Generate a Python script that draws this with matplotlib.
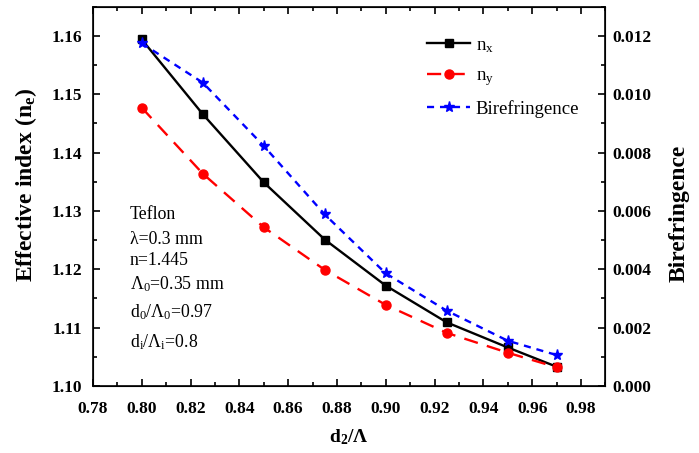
import matplotlib
matplotlib.use("Agg")
import matplotlib.pyplot as plt
from matplotlib.ticker import MultipleLocator

plt.rcParams['font.family'] = ['Liberation Serif', 'DejaVu Serif']
plt.rcParams['mathtext.fontset'] = 'custom'
plt.rcParams['mathtext.rm'] = 'Liberation Serif'
plt.rcParams['mathtext.it'] = 'Liberation Serif:italic'
plt.rcParams['mathtext.bf'] = 'Liberation Serif:bold'

# data
d2_ratio = [0.80, 0.825, 0.85, 0.875, 0.90, 0.925, 0.95, 0.97]
n_x = [1.1594, 1.1466, 1.1349, 1.1251, 1.1172, 1.1109, 1.1066, 1.1033]
n_y = [1.1477, 1.1364, 1.1272, 1.1199, 1.1139, 1.1091, 1.1057, 1.1032]
biref = [0.01175, 0.0104, 0.00823, 0.00588, 0.00386, 0.00258, 0.00155, 0.00106]

params = ["Teflon", "λ=0.3 mm", "n=1.445", r"Λ$_0$=0.35 mm",
          r"d$_0$/Λ$_0$=0.97", r"d$_\mathrm{i}$/Λ$_\mathrm{i}$=0.8"]

fig = plt.figure(figsize=(6.99, 4.53), dpi=100)
ax = fig.add_axes([0.133, 0.148, 0.733, 0.837])
ax2 = ax.twinx()

l1, = ax.plot(d2_ratio, n_x, color='black', lw=1.7, marker='s', ms=6, label=r'n$_\mathrm{x}$')
l2, = ax.plot(d2_ratio, n_y, color='red', lw=1.7, ls=(0, (6, 4)), marker='o', ms=6.5, label=r'n$_\mathrm{y}$')
l3, = ax2.plot(d2_ratio, biref, color='blue', lw=1.7, ls=(0, (3, 2.5)), marker='*', ms=8, label='Birefringence')

ax.set_xlim(0.78, 0.99)
ax.set_ylim(1.10, 1.165)
ax2.set_ylim(0, 0.013)

ax.xaxis.set_major_locator(MultipleLocator(0.02))
ax.xaxis.set_minor_locator(MultipleLocator(0.01))
ax.yaxis.set_major_locator(MultipleLocator(0.01))
ax.yaxis.set_minor_locator(MultipleLocator(0.005))
ax2.yaxis.set_major_locator(MultipleLocator(0.002))
ax2.yaxis.set_minor_locator(MultipleLocator(0.001))
ax.xaxis.set_major_formatter(plt.FormatStrFormatter('%.2f'))
ax.yaxis.set_major_formatter(plt.FormatStrFormatter('%.2f'))
ax2.yaxis.set_major_formatter(plt.FormatStrFormatter('%.3f'))

ax.tick_params(axis='x', which='both', direction='in', top=True)
ax.tick_params(axis='y', which='both', direction='in', right=False)
ax.tick_params(which='major', length=5, width=1.2, labelsize=12.5)
ax.tick_params(which='minor', length=3, width=1.2)
ax.tick_params(axis='x', which='major', pad=11)
ax.tick_params(axis='y', which='major', pad=8)
ax2.tick_params(which='both', direction='in')
ax2.tick_params(which='major', length=5, width=1.2, labelsize=12.5, pad=5)
ax2.tick_params(which='minor', length=3, width=1.2)
for lab in ax.get_xticklabels() + ax.get_yticklabels() + ax2.get_yticklabels():
    lab.set_fontweight('bold')
for sp in ax2.spines.values():
    sp.set_linewidth(1.2)

ax.set_xlabel(r'd$_\mathbf{2}$/Λ', fontsize=14, fontweight='bold')
ax.set_ylabel(r'Effective index (n$_\mathbf{e}$)', fontsize=17, fontweight='bold')
ax2.set_ylabel('Birefringence', fontsize=17, fontweight='bold')
ax.xaxis.set_label_coords(0.5, -0.11)
ax.yaxis.set_label_coords(-0.105, 0.53)
ax2.yaxis.set_label_coords(1.123, 0.455)

ys = [0.451, 0.385, 0.332, 0.269, 0.195, 0.116]
for s, y in zip(params, ys):
    ax.text(0.072, y, s, transform=ax.transAxes, fontsize=12.8, va='center')

ax.legend(handles=[l1, l2, l3], loc='upper left', bbox_to_anchor=(0.652, 0.921),
          frameon=False, fontsize=13.5, handlelength=2.3, handletextpad=0.3,
          labelspacing=0.66, borderpad=0, borderaxespad=0)

fig.savefig('out.png', dpi=100)
